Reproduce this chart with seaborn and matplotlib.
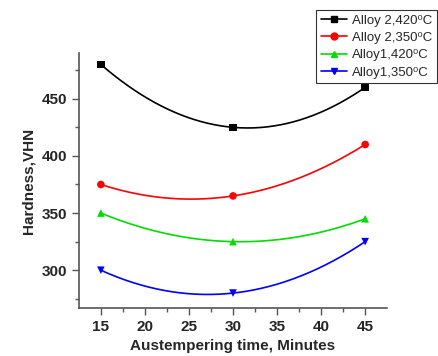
import matplotlib.pyplot as plt
import matplotlib.lines as mlines
import seaborn as sns
import pandas as pd
import numpy as np

# Data
time_min = [15, 30, 45]
alloy2_420 = [480, 425, 460]
alloy2_350 = [375, 365, 410]
alloy1_420 = [350, 325, 345]
alloy1_350 = [300, 280, 325]

series = ['Alloy 2,420\u2070C', 'Alloy 2,350\u2070C', 'Alloy1,420\u2070C', 'Alloy1,350\u2070C']
values = [alloy2_420, alloy2_350, alloy1_420, alloy1_350]
colors = ['black', 'red', '#00DD00', 'blue']
markers = ['s', 'o', '^', 'v']

sns.set_style('ticks')
plt.rcParams['font.family'] = ['Liberation Sans', 'DejaVu Sans']

pts = pd.DataFrame({
    'time': time_min * 4,
    'hardness': sum(values, []),
    'alloy': [s for s in series for _ in time_min],
})

# smooth curve through the three points of each series
xs = np.linspace(min(time_min), max(time_min), 200)
curves = []
for s, v in zip(series, values):
    coef = np.polyfit(time_min, v, 2)
    curves.append(pd.DataFrame({'time': xs, 'hardness': np.polyval(coef, xs), 'alloy': s}))
smooth = pd.concat(curves)

fig = plt.figure(figsize=(4.38, 3.56), dpi=100)
ax = fig.add_axes([0.180, 0.135, 0.704, 0.716])

pal = dict(zip(series, colors))
sns.lineplot(data=smooth, x='time', y='hardness', hue='alloy', palette=pal,
             linewidth=1.2, legend=False, ax=ax)
sns.scatterplot(data=pts, x='time', y='hardness', hue='alloy', style='alloy',
                palette=pal, markers=dict(zip(series, markers)), s=30,
                edgecolor='none', legend=False, ax=ax, zorder=3)

ax.set_xlim(12.5, 47.5)
ax.set_ylim(267, 490)
ax.set_xticks(range(15, 46, 5))
ax.set_yticks([300, 350, 400, 450])
ax.set_yticks(range(275, 490, 50), minor=True)
ax.set_xticks(np.arange(17.5, 46, 5), minor=True)
ax.tick_params(axis='both', which='major', labelsize=11, length=5, width=1, color='#555555')
ax.tick_params(axis='both', which='minor', length=3, width=1, color='#555555')
for lbl in ax.get_xticklabels() + ax.get_yticklabels():
    lbl.set_fontweight('bold')
for side in ['top', 'right']:
    ax.spines[side].set_visible(False)
for side in ['left', 'bottom']:
    ax.spines[side].set_color('#555555')
    ax.spines[side].set_linewidth(1.2)

ax.set_xlabel('Austempering time, Minutes', fontsize=11, fontweight='bold')
ax.set_ylabel('Hardness,VHN', fontsize=11, fontweight='bold')

handles = [mlines.Line2D([], [], color=c, marker=m, markersize=5, linewidth=1.2, label=s)
           for s, c, m in zip(series, colors, markers)]
leg = fig.legend(handles=handles, loc='upper right', bbox_to_anchor=(0.998, 0.972),
                 borderaxespad=0, fontsize=9.5, frameon=True, fancybox=False,
                 handlelength=2.0, borderpad=0.35, labelspacing=0.38, handletextpad=0.4)
leg.get_frame().set_edgecolor('black')
leg.get_frame().set_linewidth(0.8)

fig.savefig('out.png', dpi=100)
